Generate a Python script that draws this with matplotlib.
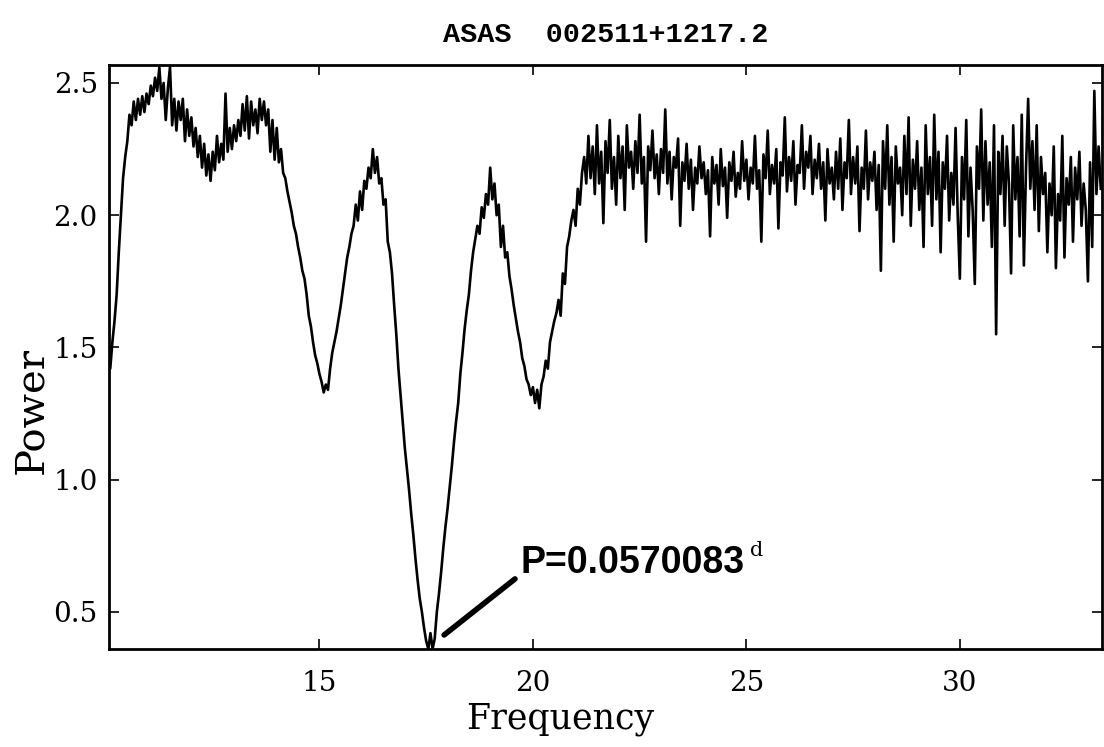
import numpy as np
import matplotlib
matplotlib.use('Agg')
import matplotlib.pyplot as plt

# Periodogram of ASAS 002511+1217.2
title = 'ASAS  002511+1217.2'
f_start = 10.0
f_step = 0.05

power = [
    # 10.00 - 10.95
    1.38, 1.48, 1.42, 1.52, 1.60, 1.70, 1.86, 2.00, 2.14, 2.22, 2.28, 2.38, 2.34, 2.43, 2.36, 2.44, 2.38, 2.45, 2.39, 2.46,
    # 11
    2.42, 2.49, 2.45, 2.52, 2.47, 2.56, 2.44, 2.50, 2.36, 2.48, 2.56, 2.34, 2.44, 2.32, 2.43, 2.36, 2.44, 2.28, 2.40, 2.30,
    # 12
    2.37, 2.26, 2.33, 2.22, 2.30, 2.18, 2.27, 2.15, 2.23, 2.13, 2.24, 2.17, 2.30, 2.20, 2.27, 2.21, 2.46, 2.24, 2.33, 2.25,
    # 13
    2.34, 2.28, 2.36, 2.30, 2.42, 2.32, 2.45, 2.29, 2.43, 2.34, 2.40, 2.31, 2.44, 2.36, 2.43, 2.34, 2.40, 2.24, 2.36, 2.21,
    # 14
    2.33, 2.20, 2.25, 2.16, 2.14, 2.09, 2.05, 2.01, 1.96, 1.93, 1.88, 1.84, 1.79, 1.76, 1.70, 1.62, 1.58, 1.52, 1.47, 1.44,
    # 15
    1.40, 1.37, 1.33, 1.36, 1.34, 1.42, 1.48, 1.52, 1.56, 1.61, 1.66, 1.72, 1.78, 1.84, 1.88, 1.93, 1.96, 2.04, 1.98, 2.09,
    # 16
    2.02, 2.13, 2.10, 2.18, 2.14, 2.25, 2.16, 2.22, 2.12, 2.14, 2.04, 2.06, 1.90, 1.86, 1.78, 1.66, 1.55, 1.42, 1.32, 1.22,
    # 17
    1.12, 1.04, 0.96, 0.87, 0.79, 0.70, 0.62, 0.55, 0.50, 0.44, 0.39, 0.36, 0.42, 0.36, 0.40, 0.50, 0.57, 0.65, 0.74, 0.82,
    # 18
    0.89, 0.97, 1.05, 1.14, 1.22, 1.29, 1.40, 1.48, 1.57, 1.64, 1.70, 1.79, 1.86, 1.91, 1.96, 1.93, 2.03, 1.99, 2.08, 2.04,
    # 19
    2.18, 2.06, 2.12, 2.00, 2.04, 1.88, 1.96, 1.84, 1.86, 1.77, 1.72, 1.66, 1.61, 1.56, 1.52, 1.46, 1.43, 1.38, 1.36, 1.32,
    # 20
    1.35, 1.29, 1.34, 1.27, 1.36, 1.39, 1.45, 1.42, 1.52, 1.56, 1.60, 1.63, 1.68, 1.62, 1.78, 1.74, 1.88, 1.92, 1.98, 2.02,
    # 21
    1.96, 2.10, 2.04, 2.16, 2.22, 2.12, 2.30, 2.14, 2.26, 2.08, 2.34, 2.12, 2.24, 1.97, 2.28, 2.16, 2.36, 2.10, 2.22, 2.04,
    # 22
    2.30, 2.14, 2.26, 2.02, 2.34, 2.18, 2.24, 2.10, 2.28, 2.16, 2.38, 2.12, 2.22, 1.90, 2.26, 2.17, 2.32, 2.14, 2.23, 2.08,
    # 23
    2.25, 2.16, 2.40, 2.12, 2.24, 2.06, 2.22, 2.18, 2.29, 1.96, 2.20, 2.13, 2.27, 2.10, 2.21, 2.02, 2.18, 2.12, 2.26, 2.14,
    # 24
    2.20, 2.08, 2.17, 1.92, 2.22, 2.12, 2.19, 2.04, 2.25, 2.11, 2.18, 1.99, 2.20, 2.13, 2.24, 2.07, 2.16, 2.10, 2.28, 2.13,
    # 25
    2.21, 2.06, 2.18, 2.12, 2.30, 2.10, 2.17, 1.90, 2.23, 2.14, 2.32, 2.08, 2.19, 2.12, 2.25, 1.95, 2.20, 2.15, 2.37, 2.09,
    # 26
    2.22, 2.13, 2.28, 2.04, 2.19, 2.16, 2.34, 2.10, 2.24, 2.18, 2.30, 2.08, 2.21, 2.14, 2.27, 2.10, 2.20, 1.98, 2.25, 2.12,
    # 27
    2.18, 2.06, 2.24, 2.10, 2.29, 2.02, 2.20, 2.14, 2.36, 2.08, 2.22, 2.12, 2.26, 1.94, 2.18, 2.10, 2.32, 2.06, 2.20, 2.13,
    # 28
    2.24, 2.02, 2.19, 1.79, 2.28, 2.10, 2.34, 2.04, 2.22, 1.90, 2.26, 2.12, 2.18, 2.00, 2.30, 2.08, 2.37, 1.96, 2.21, 2.10,
    # 29
    2.28, 2.02, 2.18, 1.88, 2.34, 2.08, 2.22, 1.96, 2.38, 2.06, 2.24, 1.86, 2.20, 2.10, 2.30, 1.98, 2.16, 2.04, 2.33, 2.00,
    # 30
    1.76, 2.22, 2.06, 2.36, 1.92, 2.18, 2.02, 1.74, 2.26, 2.10, 2.40, 1.98, 2.28, 2.04, 2.20, 1.88, 2.34, 1.55, 2.24, 2.08,
    # 31
    2.30, 1.96, 2.26, 2.12, 1.78, 2.34, 2.06, 2.22, 1.92, 2.38, 1.81, 2.18, 2.44, 2.10, 2.28, 2.02, 2.34, 1.94, 2.22, 2.08,
    # 32
    2.16, 1.86, 2.12, 2.00, 2.26, 1.80, 2.08, 1.98, 2.30, 1.84, 2.14, 2.04, 2.22, 1.90, 2.18, 2.06, 2.24, 1.96, 2.12, 2.02,
    # 33.00 - 33.30
    1.75, 2.20, 1.88, 2.47, 2.08, 2.26, 2.10,
]
freq = f_start + f_step * np.arange(len(power))

# label for the best period and the pointer line
period_text = 'P=0.0570083'
pointer_x = [17.92, 19.58]
pointer_y = [0.413, 0.625]

fig = plt.figure(figsize=(11.04, 7.47), dpi=100)
ax = fig.add_axes([0.0987, 0.1312, 0.8995, 0.7818])

ax.plot(freq, power, color='black', linewidth=1.9)
ax.plot(pointer_x, pointer_y, color='black', linewidth=4, solid_capstyle='round')

ax.text(19.70, 0.647, period_text, fontsize=27, fontweight='bold',
        family='Liberation Sans', va='baseline', ha='left')
ax.text(25.08, 0.711, 'd', fontsize=15, family='DejaVu Serif', va='baseline', ha='left')

ax.set_xlim(10.07, 33.33)
ax.set_ylim(0.36, 2.568)
ax.set_xticks([15, 20, 25, 30])
ax.set_yticks([0.5, 1.0, 1.5, 2.0, 2.5])
ax.set_xticklabels(['15', '20', '25', '30'])
ax.set_yticklabels(['0.5', '1.0', '1.5', '2.0', '2.5'])

ax.tick_params(direction='in', length=7, width=1.2, top=True, right=True,
               labelsize=20)
ax.tick_params(axis='x', pad=15)
ax.tick_params(axis='y', pad=8)
for lab in ax.get_xticklabels() + ax.get_yticklabels():
    lab.set_family('DejaVu Serif')

for sp in ax.spines.values():
    sp.set_linewidth(2)

ax.set_title(title, fontsize=20.5, family='Liberation Mono', fontweight='bold', pad=16.5)
ax.set_xlabel('Frequency', fontsize=25, family='DejaVu Serif')
ax.xaxis.set_label_coords(0.454, -0.09)
ax.set_ylabel('Power', fontsize=29, family='DejaVu Serif')
ax.yaxis.set_label_coords(-0.059, 0.408)

fig.savefig('out.png', dpi=100)
